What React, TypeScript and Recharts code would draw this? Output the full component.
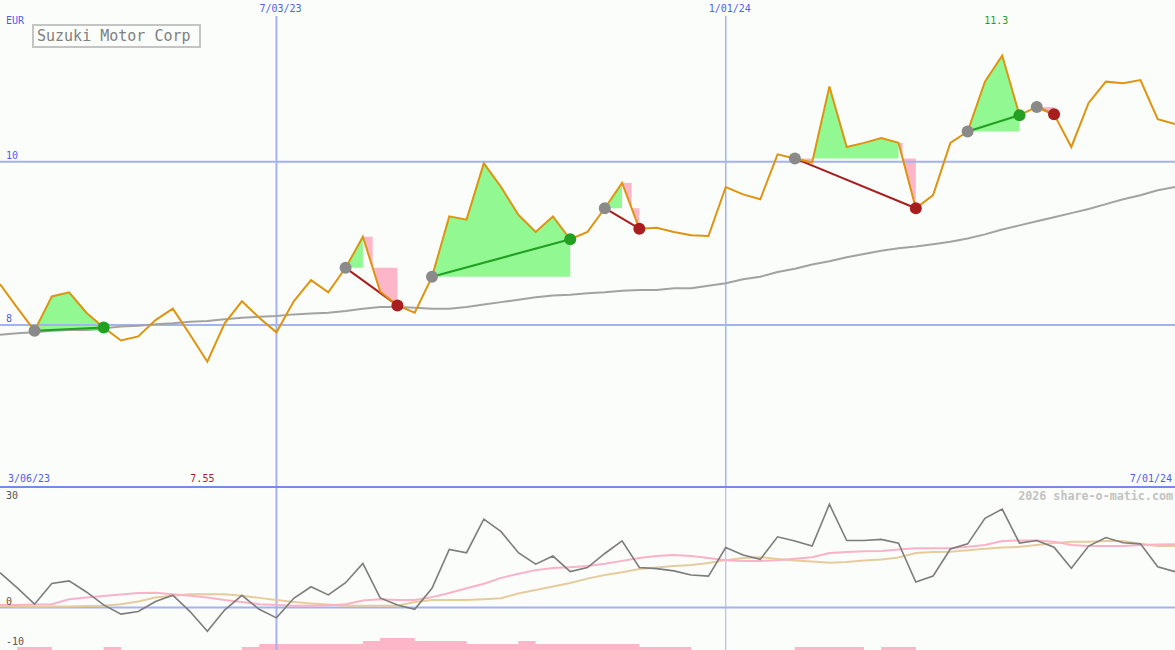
import React from "react";
import {
  ComposedChart,
  Line,
  Area,
  XAxis,
  YAxis,
  ReferenceLine,
} from "recharts";

// weekly closes (EUR), index 0 = left edge
const price = [
  8.5, 8.21, 7.93, 8.35, 8.4, 8.15, 7.97, 7.81, 7.86, 8.06,
  8.2, 7.88, 7.55, 8.02, 8.29, 8.09, 7.91, 8.29, 8.55, 8.4,
  8.7, 9.08, 8.41, 8.24, 8.15, 8.59, 9.33, 9.29, 9.98, 9.69,
  9.35, 9.14, 9.33, 9.05, 9.14, 9.43, 9.74, 9.18, 9.19, 9.14,
  9.1, 9.09, 9.69, 9.6, 9.54, 10.09, 10.04, 9.99, 10.92, 10.18,
  10.23, 10.29, 10.23, 9.43, 9.59, 10.23, 10.37, 10.98, 11.3, 10.57,
  10.67, 10.58, 10.18, 10.72, 10.98, 10.96, 11.0, 10.52, 10.46,
];

// long moving average
const movingAvg = [
  7.88, 7.9, 7.91, 7.93, 7.94, 7.94, 7.96, 7.98, 7.99, 8.01,
  8.02, 8.04, 8.05, 8.07, 8.09, 8.1, 8.11, 8.13, 8.14, 8.15,
  8.17, 8.2, 8.22, 8.22, 8.21, 8.2, 8.2, 8.22, 8.25, 8.28,
  8.31, 8.34, 8.36, 8.37, 8.39, 8.4, 8.42, 8.43, 8.43, 8.45,
  8.45, 8.48, 8.51, 8.56, 8.59, 8.65, 8.69, 8.74, 8.78, 8.83,
  8.87, 8.91, 8.94, 8.96, 8.99, 9.02, 9.06, 9.11, 9.17, 9.22,
  9.27, 9.32, 9.37, 9.42, 9.48, 9.54, 9.59, 9.65, 9.69,
];

// lower panel
const momentum = [
  9.4, 5.3, 0.9, 6.5, 7.2, 4.2, 0.7, -1.8, -1.1, 1.6,
  3.3, -1.1, -6.4, -0.7, 3.3, -0.5, -2.8, 2.5, 5.6, 3.4,
  6.7, 11.9, 2.6, 0.7, -0.5, 5.2, 15.7, 14.8, 23.9, 20.5,
  14.8, 11.7, 13.9, 9.7, 10.8, 14.6, 18.0, 10.8, 10.5, 9.9,
  8.8, 8.5, 16.2, 14.2, 13.0, 19.1, 18.0, 16.6, 27.9, 18.1,
  18.1, 18.4, 17.4, 6.9, 8.5, 15.8, 17.2, 24.1, 26.6, 17.4,
  18.1, 16.3, 10.6, 16.6, 18.9, 17.5, 17.2, 11.0, 9.7,
];
const signalFast = [
  0.7, 0.7, 0.8, 0.9, 2.2, 2.7, 3.1, 3.5, 3.9, 4.0,
  3.6, 3.2, 2.7, 2.0, 1.5, 0.9, 0.7, 0.5, 0.5, 0.6,
  0.9, 1.9, 2.2, 2.0, 2.0, 2.8, 3.9, 5.2, 6.4, 8.0,
  9.1, 10.1, 10.7, 10.9, 11.2, 11.8, 12.6, 13.4, 13.9, 14.2,
  13.9, 13.4, 12.8, 12.6, 12.6, 12.8, 13.2, 13.6, 14.7, 15.0,
  15.2, 15.3, 15.7, 16.0, 16.0, 16.0, 16.4, 16.9, 18.0, 18.1,
  18.1, 17.8, 16.9, 16.6, 16.6, 16.6, 16.9, 17.0, 17.1,
];
const signalSlow = [
  0.4, 0.3, 0.2, 0.3, 0.3, 0.4, 0.5, 0.9, 1.6, 2.7,
  3.2, 3.6, 3.6, 3.6, 3.2, 2.6, 2.0, 1.5, 1.1, 0.8,
  0.5, 0.5, 0.5, 0.5, 1.5, 2.0, 2.0, 2.0, 2.2, 2.5,
  3.8, 4.7, 5.7, 6.6, 7.8, 8.8, 9.5, 10.4, 10.8, 11.2,
  11.5, 12.0, 12.8, 13.4, 13.6, 13.1, 12.7, 12.4, 12.1, 12.3,
  12.7, 13.0, 13.5, 14.7, 15.0, 15.1, 15.5, 15.9, 16.2, 16.4,
  16.9, 17.4, 17.8, 17.8, 18.0, 18.0, 17.2, 16.6, 16.6,
];
const volumeLevel = [
  0, 1, 1, 0, 0, 0, 1, 0, 0, 0,
  0, 0, 0, 0, 1, 2, 2, 2, 2, 2,
  2, 3, 4, 4, 3, 3, 3, 2, 2, 2,
  3, 2, 2, 2, 2, 2, 2, 1, 1, 1,
  0, 0, 0, 0, 0, 0, 1, 1, 1, 1,
  0, 1, 1, 0, 0, 0, 0, 0, 0, 0,
  0, 0, 0, 0, 0, 0, 0, 0, 0,
];

// trades: entry / exit week index
const tradeEntry = [2, 20, 25, 35, 46, 56, 60];
const tradeExit = [6, 23, 33, 37, 53, 59, 61];

const dateTicks = [
  { i: 16, label: "7/03/23" },
  { i: 42, label: "1/01/24" },
];
const startLabel = "3/06/23";
const endLabel = "7/01/24";
const hiLabel = "11.3";
const loLabel = "7.55";

const W = 1175;
const TOP_H = 487;
const BOT_H = 163;
const LAST = price.length - 1;
const MAIN_DOMAIN: [number, number] = [6.016, 11.98];
const LOW_DOMAIN: [number, number] = [-11.49, 32.57];
const VOL_DOMAIN: [number, number] = [0, 54.33];

const BLUE_GRID = "#a4b2f2";
const BLUE_TEXT = "#4e5ef0";
const ORANGE = "#dd940f";
const GREEN_FILL = "#92f892";
const PINK_FILL = "#fdb5c8";
const WIN = "#22a022";
const LOSS = "#a81e1e";
const ENTRY_DOT = "#8a8a8a";

const px = (i: number) => (i * W) / LAST;

type Pt = { x: number; r: [number, number] };
type Poly = { color: string; pts: Pt[] };

// split each trade into green (above entry) and pink (below entry) pieces
function tradeFills(e: number, x: number): Poly[] {
  const E = price[e];
  const out: Poly[] = [];
  const push = (color: string, pts: Pt[]) => {
    const last = out[out.length - 1];
    if (last && last.color === color && last.pts[last.pts.length - 1].x === pts[0].x) {
      last.pts.push(...pts.slice(1));
    } else out.push({ color, pts });
  };
  for (let i = e; i < x; i++) {
    const a = price[i];
    const b = price[i + 1];
    if (a >= E && b >= E) {
      push(GREEN_FILL, [{ x: i, r: [E, a] }, { x: i + 1, r: [E, b] }]);
    } else if (a < E && b < E) {
      push(PINK_FILL, [{ x: i, r: [a, E] }, { x: i + 1, r: [b, E] }]);
    } else if (a >= E) {
      const c = i + (a - E) / (a - b);
      push(PINK_FILL, [
        { x: i, r: [a, a] },
        { x: c, r: [E, a] },
        { x: c, r: [E, E] },
        { x: i + 1, r: [b, E] },
      ]);
    } else {
      const c = i + (E - a) / (b - a);
      push(GREEN_FILL, [{ x: c, r: [E, E] }, { x: i + 1, r: [E, b] }]);
    }
  }
  return out;
}

const mainRows = price.map((p, i) => ({ x: i, price: p, ma: movingAvg[i] }));
const lowRows = momentum.map((m, i) => ({
  x: i,
  mom: m,
  fast: signalFast[i],
  slow: signalSlow[i],
  vol: volumeLevel[i],
}));

const fills = tradeEntry.flatMap((e, k) => tradeFills(e, tradeExit[k]));

const label: React.CSSProperties = {
  position: "absolute",
  fontFamily: '"DejaVu Sans Mono", monospace',
  fontSize: 10,
  lineHeight: "12px",
  whiteSpace: "nowrap",
};

export default function App() {
  const vTop = MAIN_DOMAIN[1] - (16 / TOP_H) * (MAIN_DOMAIN[1] - MAIN_DOMAIN[0]);
  const hiIdx = price.indexOf(Math.max(...price));
  const loIdx = price.indexOf(Math.min(...price));
  return (
    <div
      style={{
        position: "absolute",
        left: 0,
        top: 0,
        width: W,
        height: TOP_H + BOT_H,
        background: "#fbfdfb",
        overflow: "hidden",
      }}
    >
      <div style={{ position: "absolute", left: 0, top: 0 }}>
        <ComposedChart width={W} height={TOP_H} data={mainRows} margin={{ top: 0, right: 0, bottom: 0, left: 0 }}>
          <XAxis type="number" dataKey="x" domain={[0, LAST]} hide allowDataOverflow />
          <YAxis type="number" domain={MAIN_DOMAIN} hide allowDataOverflow />
          <ReferenceLine y={10} stroke={BLUE_GRID} strokeWidth={2} />
          <ReferenceLine y={8} stroke={BLUE_GRID} strokeWidth={2} />
          {dateTicks.map((t) => (
            <ReferenceLine
              key={t.label}
              segment={[
                { x: t.i, y: vTop },
                { x: t.i, y: MAIN_DOMAIN[0] },
              ]}
              stroke={BLUE_GRID}
              strokeWidth={t.i === 16 ? 2 : 1.5}
            />
          ))}
          {fills.map((f, k) => (
            <Area
              key={"f" + k}
              data={f.pts}
              dataKey="r"
              type="linear"
              stroke="none"
              fill={f.color}
              fillOpacity={1}
              dot={false}
              activeDot={false}
              isAnimationActive={false}
            />
          ))}
          <Line dataKey="ma" type="linear" stroke="#a2a2a2" strokeWidth={2} dot={false} activeDot={false} isAnimationActive={false} />
          {tradeEntry.map((e, k) => {
            const x = tradeExit[k];
            const color = price[x] >= price[e] ? WIN : LOSS;
            return (
              <Line
                key={"t" + k}
                data={[
                  { x: e, y: price[e] },
                  { x, y: price[x] },
                ]}
                dataKey="y"
                type="linear"
                stroke={color}
                strokeWidth={2}
                activeDot={false}
                isAnimationActive={false}
                dot={(p: any) => (
                  <circle key={"d" + k + "-" + p.index} cx={p.cx} cy={p.cy} r={6} fill={p.index === 0 ? ENTRY_DOT : color} />
                )}
              />
            );
          })}
          <Line dataKey="price" type="linear" stroke={ORANGE} strokeWidth={2} dot={false} activeDot={false} isAnimationActive={false} />
        </ComposedChart>
      </div>

      <div style={{ position: "absolute", left: 0, top: TOP_H }}>
        <ComposedChart width={W} height={BOT_H} data={lowRows} margin={{ top: 0, right: 0, bottom: 0, left: 0 }}>
          <XAxis type="number" dataKey="x" domain={[0, LAST]} hide allowDataOverflow />
          <YAxis type="number" domain={LOW_DOMAIN} hide allowDataOverflow />
          <YAxis yAxisId="vol" type="number" domain={VOL_DOMAIN} hide allowDataOverflow />
          <ReferenceLine y={0} stroke={BLUE_GRID} strokeWidth={2} />
          {dateTicks.map((t) => (
            <ReferenceLine key={t.label} x={t.i} stroke={BLUE_GRID} strokeWidth={t.i === 16 ? 2 : 1} />
          ))}
          <Area yAxisId="vol" dataKey="vol" type="stepAfter" stroke="none" fill={PINK_FILL} fillOpacity={1} dot={false} activeDot={false} isAnimationActive={false} />
          <Line dataKey="slow" type="linear" stroke="#e6cc9c" strokeWidth={2} dot={false} activeDot={false} isAnimationActive={false} />
          <Line dataKey="fast" type="linear" stroke="#fbb2c6" strokeWidth={2} dot={false} activeDot={false} isAnimationActive={false} />
          <Line dataKey="mom" type="linear" stroke="#7c7c7c" strokeWidth={1.6} dot={false} activeDot={false} isAnimationActive={false} />
        </ComposedChart>
      </div>

      {/* panel divider */}
      <div style={{ position: "absolute", left: 0, top: TOP_H - 1, width: W, height: 2, background: "#7888f0" }} />

      {/* title box */}
      <div
        style={{
          position: "absolute",
          left: 32,
          top: 24,
          width: 162,
          height: 20,
          border: "2px solid #c4c4c4",
          background: "#fbfdfb",
          color: "#808080",
          fontFamily: '"DejaVu Sans Mono", monospace',
          fontSize: 15,
          lineHeight: "20px",
          paddingLeft: 3,
          boxSizing: "content-box",
          whiteSpace: "nowrap",
        }}
      >
        Suzuki Motor Corp
      </div>

      <div style={{ ...label, left: 6, top: 15, color: BLUE_TEXT }}>EUR</div>
      <div style={{ ...label, left: 6, top: 150, color: BLUE_TEXT }}>10</div>
      <div style={{ ...label, left: 6, top: 313, color: BLUE_TEXT }}>8</div>
      {dateTicks.map((t) => (
        <div
          key={"l" + t.label}
          style={{ ...label, left: px(t.i) - 17, top: 3, color: BLUE_TEXT }}
        >
          {t.label}
        </div>
      ))}
      <div style={{ ...label, left: px(hiIdx) - 18, top: 15, color: WIN }}>{hiLabel}</div>

      <div style={{ ...label, left: 8, top: 473, color: BLUE_TEXT }}>{startLabel}</div>
      <div style={{ ...label, left: px(loIdx) - 17, top: 473, color: LOSS }}>{loLabel}</div>
      <div style={{ ...label, right: 3, top: 473, color: BLUE_TEXT }}>{endLabel}</div>
      <div
        style={{
          ...label,
          right: 2,
          top: 489,
          color: "#c2c2c2",
          fontSize: 11.7,
          lineHeight: "14px",
          fontWeight: "bold",
        }}
      >
        2026 share-o-matic.com
      </div>
      <div style={{ ...label, left: 6, top: 490, color: "#555" }}>30</div>
      <div style={{ ...label, left: 6, top: 596, color: "#555" }}>0</div>
      <div style={{ ...label, left: 6, top: 636, color: "#555" }}>-10</div>
    </div>
  );
}
